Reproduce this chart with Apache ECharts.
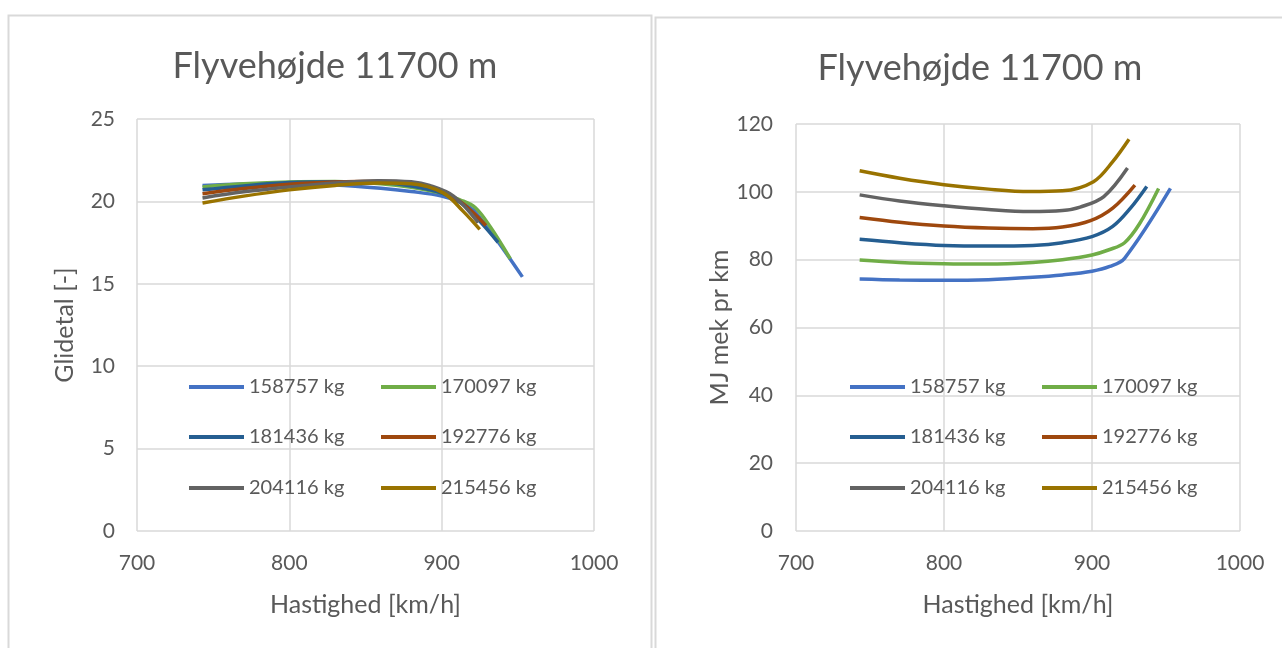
<!DOCTYPE html>
<html><head><meta charset="utf-8">
<script src="https://cdn.jsdelivr.net/npm/echarts@6/dist/echarts.min.js"></script>
<style>html,body{margin:0;padding:0;background:#fff}#c{width:1282px;height:648px}</style>
</head><body><div id="c"></div>
<script>
// ---- data ----
const seriesNames = ['158757 kg','170097 kg','181436 kg','192776 kg','204116 kg','215456 kg'];
const colors = ['#4472C4','#70AD47','#255E91','#9E480E','#636363','#997300'];

const speed1 = [743, 770, 800, 830, 860, 880, 900, 912, 922, 953];
const glide1 = [20.96, 21.05, 21.07, 21.0, 20.8, 20.6, 20.33, 19.95, 19.37, 15.42];
const mj1    = [74.3, 74.0, 73.9, 74.1, 74.8, 75.5, 76.6, 78.0, 80.4, 101.0];

const speed2 = [743, 770, 800, 830, 860, 880, 900, 912, 922, 932, 945];
const glide2 = [20.88, 21.07, 21.18, 21.2, 21.07, 20.86, 20.5, 20.1, 19.63, 18.44, 16.52];
const mj2    = [79.9, 79.2, 78.8, 78.7, 79.2, 80.0, 81.4, 83.0, 85.0, 90.5, 101.0];

const speed3 = [743, 770, 800, 830, 860, 880, 900, 914, 926, 937];
const glide3 = [20.70, 20.94, 21.14, 21.19, 21.14, 20.94, 20.51, 19.82, 18.70, 17.52];
const mj3    = [86.0, 85.0, 84.2, 84.0, 84.2, 85.0, 86.8, 89.8, 95.2, 101.6];

const speed4 = [743, 770, 800, 830, 860, 880, 899, 914, 929];
const glide4 = [20.47, 20.78, 21.04, 21.18, 21.22, 21.11, 20.67, 19.86, 18.54];
const mj4    = [92.4, 91.0, 89.9, 89.3, 89.1, 89.6, 91.5, 95.2, 102.0];

const speed5 = [743, 770, 800, 830, 858, 880, 892, 908, 924];
const glide5 = [20.21, 20.58, 20.88, 21.12, 21.26, 21.19, 20.97, 20.31, 18.71];
const mj5    = [99.1, 97.3, 95.9, 94.8, 94.2, 94.5, 95.5, 98.6, 107.0];

const speed6 = [743, 770, 800, 830, 858, 880, 901, 914, 925];
const glide6 = [19.90, 20.32, 20.70, 20.97, 21.12, 21.07, 20.52, 19.41, 18.30];
const mj6    = [106.2, 104.0, 102.1, 100.8, 100.1, 100.3, 103.0, 108.9, 115.5];

const titleText = 'Flyvehøjde 11700 m';
const xName = 'Hastighed [km/h]';
const yNameLeft = 'Glidetal [-]';
const yNameRight = 'MJ mek pr km';

// ---- build ----
const speeds = [speed1, speed2, speed3, speed4, speed5, speed6];
const glides = [glide1, glide2, glide3, glide4, glide5, glide6];
const mjs = [mj1, mj2, mj3, mj4, mj5, mj6];
const FONT = 'Lato';
const TXT = '#595959';
const GRIDC = '#d9d9d9';

function pairs(xs, ys){ return xs.map((x,i)=>[x, ys[i]]); }

const series = [];
seriesNames.forEach((n,i)=>{
  series.push({name:n, type:'line', xAxisIndex:0, yAxisIndex:0, data:pairs(speeds[i], glides[i]),
    showSymbol:false, smooth:0.35, lineStyle:{width:3.5, color:colors[i]}, itemStyle:{color:colors[i]}});
});
seriesNames.forEach((n,i)=>{
  series.push({name:n, type:'line', xAxisIndex:1, yAxisIndex:1, data:pairs(speeds[i], mjs[i]),
    showSymbol:false, smooth:0.35, lineStyle:{width:3.5, color:colors[i]}, itemStyle:{color:colors[i]}});
});

function xAxis(gi){
  return {type:'value', gridIndex:gi, min:700, max:1000, interval:100,
    name:xName, nameLocation:'middle', nameGap:61,
    nameTextStyle:{fontFamily:FONT, fontSize:25, color:TXT},
    axisLine:{show:false}, axisTick:{show:false},
    axisLabel:{fontFamily:FONT, fontSize:21, color:TXT, margin:22, formatter:v=>String(v)},
    splitLine:{show:true, lineStyle:{color:GRIDC, width:1.5}}};
}
function yAxis(gi, max, interval, name, gap, margin){
  return {type:'value', gridIndex:gi, min:0, max:max, interval:interval,
    name:name, nameLocation:'middle', nameGap:gap, nameRotate:90,
    nameTextStyle:{fontFamily:FONT, fontSize:25, color:TXT},
    axisLine:{show:false}, axisTick:{show:false},
    axisLabel:{fontFamily:FONT, fontSize:21, color:TXT, margin:margin},
    splitLine:{show:true, lineStyle:{color:GRIDC, width:1.5}}};
}

function legendItem(left, top, name){
  return {left:left, top:top, padding:0, orient:'horizontal', data:[name], icon:'rect',
    itemWidth:55, itemHeight:4, selectedMode:false,
    textStyle:{fontFamily:FONT, fontSize:20, color:TXT}};
}

const rowsTop = [377, 427, 478];
const colLefts = [[189, 381], [850, 1042]];
const legends = [];
colLefts.forEach(cols=>{
  for (let r=0;r<3;r++){
    legends.push(legendItem(cols[0], rowsTop[r], seriesNames[2*r]));
    legends.push(legendItem(cols[1], rowsTop[r], seriesNames[2*r+1]));
  }
});

const option = {
  animation:false,
  backgroundColor:'#fff',
  graphic:[
    {type:'rect', shape:{x:8.5, y:15.5, width:643, height:640}, style:{fill:'none', stroke:'#d9d9d9', lineWidth:2}},
    {type:'rect', shape:{x:655.5, y:17.5, width:640, height:640}, style:{fill:'none', stroke:'#d9d9d9', lineWidth:2}}
  ],
  title:[
    {text:titleText, left:330, top:43, textAlign:'center', textStyle:{fontFamily:FONT, fontSize:36, fontWeight:'normal', color:TXT}},
    {text:titleText, left:975, top:45, textAlign:'center', textStyle:{fontFamily:FONT, fontSize:36, fontWeight:'normal', color:TXT}}
  ],
  legend:legends,
  grid:[
    {left:137, top:119, width:457, height:412},
    {left:796, top:124, width:444, height:407}
  ],
  xAxis:[xAxis(0), xAxis(1)],
  yAxis:[yAxis(0, 25, 5, yNameLeft, 60, 22), yAxis(1, 120, 20, yNameRight, 59, 23)],
  series:series
};
const chart = echarts.init(document.getElementById('c'), null, {renderer:'canvas'});
chart.setOption(option);
</script></body></html>
